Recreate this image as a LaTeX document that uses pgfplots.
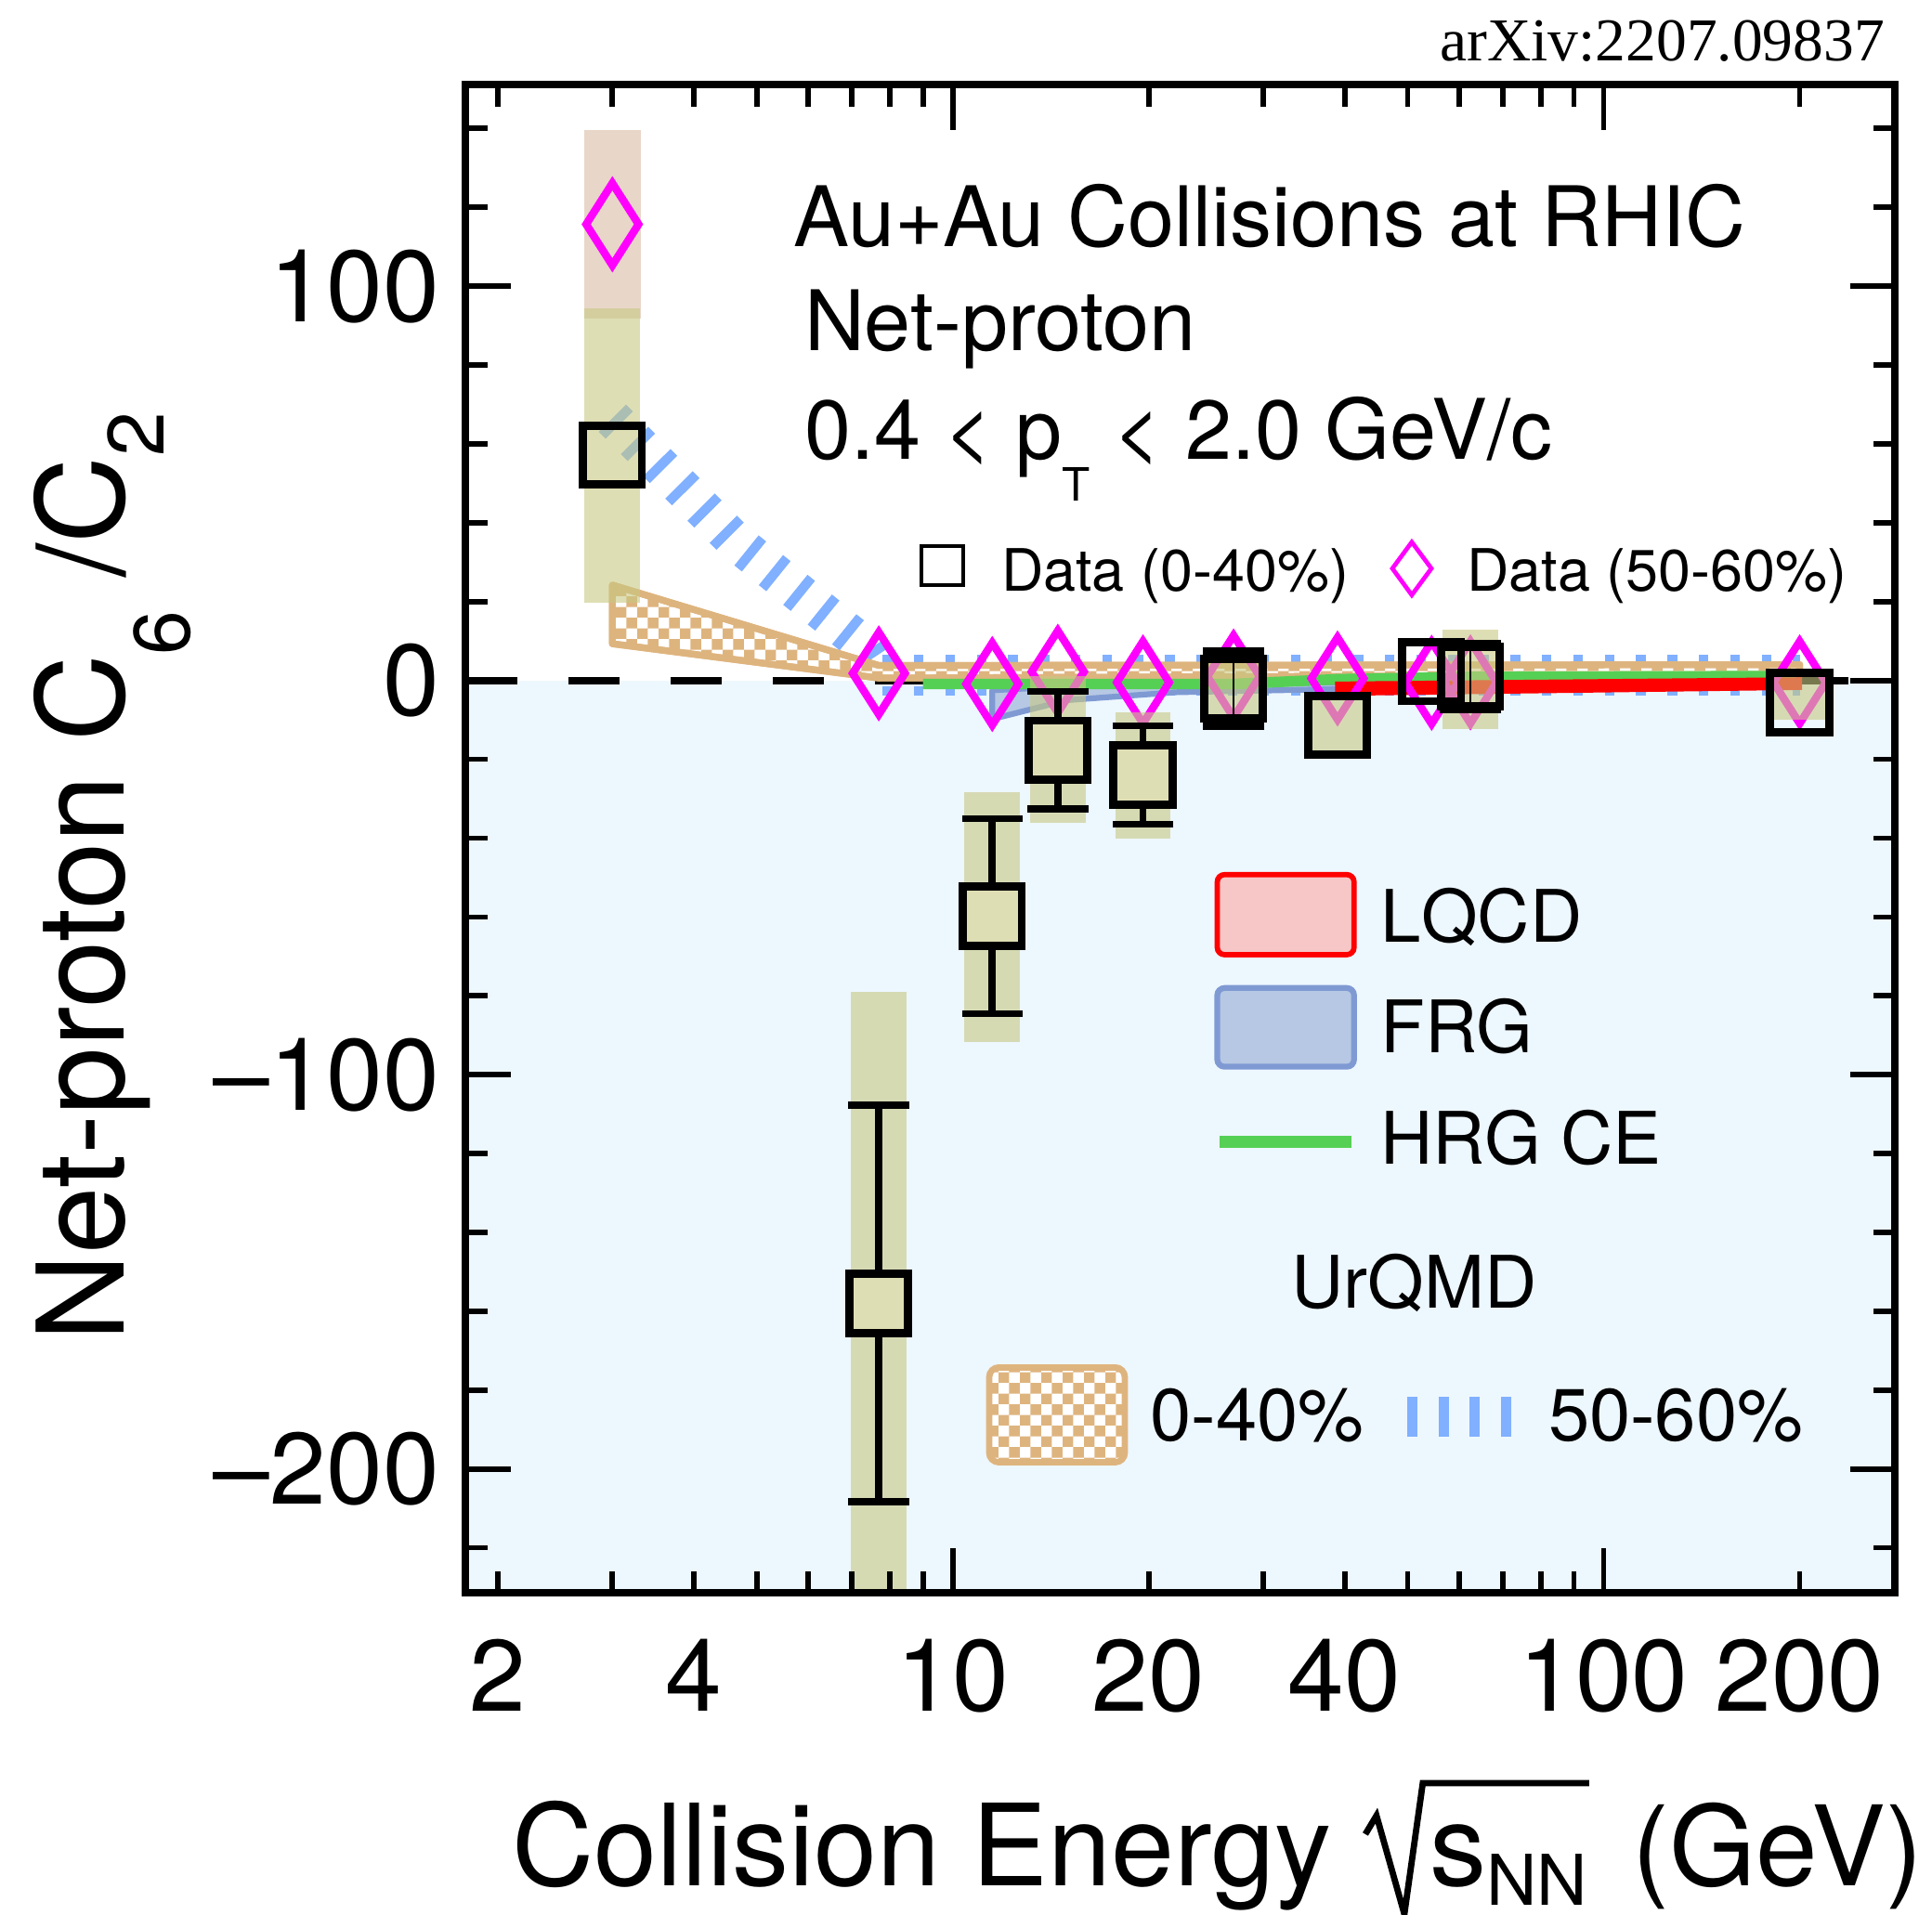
\documentclass[border=0pt]{standalone}
\usepackage{pgfplots}
\pgfplotsset{compat=1.18}
\usetikzlibrary{patterns}
\usepackage{fontspec}
\setmainfont{TeX Gyre Heros}
\newfontfamily\arxivfont{Liberation Serif}

\definecolor{bgblue}{RGB}{237,247,254}
\definecolor{olivebase}{RGB}{200,200,130}
\definecolor{olivefill}{RGB}{222,222,180}
\definecolor{pinkbase}{RGB}{217,187,163}
\definecolor{urqmdblue}{RGB}{128,176,255}
\definecolor{urqmdtan}{RGB}{222,180,126}
\definecolor{frgfill}{RGB}{183,200,228}
\definecolor{frgdraw}{RGB}{127,154,211}
\definecolor{lqcdfill}{RGB}{247,198,198}
\definecolor{hrggreen}{RGB}{85,208,85}
\definecolor{mag}{RGB}{255,0,255}

\pgfdeclarepatternformonly{smallchecker}{\pgfpointorigin}{\pgfqpoint{4.4pt}{4.4pt}}{\pgfqpoint{4.4pt}{4.4pt}}{%
  \pgfpathrectangle{\pgfpointorigin}{\pgfqpoint{2.2pt}{2.2pt}}%
  \pgfpathrectangle{\pgfqpoint{2.2pt}{2.2pt}}{\pgfqpoint{2.2pt}{2.2pt}}%
  \pgfusepath{fill}}

\begin{document}
\begin{tikzpicture}
\begin{axis}[
  scale only axis,
  width=295.88pt, height=312.26pt,
  xmode=log, log basis x=10,
  xmin=1.786, xmax=280,
  ymin=-231.4, ymax=151.1,
  clip mode=individual,
  axis on top,
  axis line style={line width=1.5pt, black},
  tick pos=both, tick align=inside,
  major tick length=9.3pt, minor tick length=4.5pt,
  tick style={black, line width=1.1pt},
  xtick={10,100}, xticklabels={10,100},
  extra x ticks={2,4,20,40,200},
  extra x tick labels={2,4,20,40,200},
  extra x tick style={major tick length=4.5pt},
  minor xtick={3,5,6,7,8,9,30,50,60,70,80,90},
  ytick={-200,-100,0,100}, yticklabels={--200,--100,0,100},
  minor ytick={-220,-180,-160,-140,-120,-80,-60,-40,-20,20,40,60,80,120,140},
  xticklabel style={font=\fontsize{21}{23}\selectfont, inner sep=0pt, anchor=north, yshift=-9.4pt},
  yticklabel style={font=\fontsize{21}{23}\selectfont, inner sep=0pt, anchor=east, xshift=-5.3pt},
]
% background below zero
\addplot [draw=none, fill=bgblue] coordinates {(1.786,0) (280,0) (280,-231.4) (1.786,-231.4)} -- cycle;
% zero line
\addplot [black, line width=1.5pt, dash pattern=on 10.6pt off 10.6pt] coordinates {(1.786,0) (280,0)};
% UrQMD 50-60% (sloped part and the two edges of the flat part)
\addplot [urqmdblue, line width=8pt, dash pattern=on 2pt off 4.5pt, line join=bevel] coordinates {(3,66.5) (4.64,35.2) (7.26,9.3) (7.8,1.5)};
\addplot [urqmdblue, line width=2pt, dash pattern=on 2pt off 4.5pt] coordinates {(7.8,5.2) (200,5.2)};
\addplot [urqmdblue, line width=2pt, dash pattern=on 2pt off 4.5pt] coordinates {(7.8,-2.7) (200,-2.7)};
% UrQMD 0-40%
\addplot [draw=urqmdtan, line width=1.4pt, line join=round, preaction={fill=white}, pattern=smallchecker, pattern color=urqmdtan] coordinates {(3,24.2) (7.7,3.8) (200,4) (200,1.5) (7.7,0.6) (3,9.3)} -- cycle;
% FRG
\addplot [draw=frgdraw, fill=frgfill, line width=1.2pt, line join=round] coordinates {(11.5,-2.5) (15,-1.5) (22,-1.3) (39,-0.5) (45,-0.3) (45,-2) (39,-2.2) (22,-3) (15,-5) (11.5,-9.8)} -- cycle;
% HRG CE
\addplot [hrggreen, line width=2.2pt] coordinates {(9,-0.9) (27,-0.9) (39,0.3) (62.4,0.9) (200,1.1)};
% LQCD
\addplot [draw=red, fill=red, line width=1pt] coordinates {(39,-0.9) (200,0.2) (200,-1.8) (39,-3.3)} -- cycle;
% sys band, 50-60% at 3 GeV
\addplot [draw=none, mark=none, error bars/.cd, y dir=both, y explicit, error mark=none,
  error bar style={draw=pinkbase, draw opacity=0.6, line width=11.8pt}]
  coordinates {(3,115.7) +- (0,23.8)};
% Data 50-60%
\addplot [only marks, mark=diamond, mark size=8.5pt, mark options={draw=mag, line width=1.6pt, xscale=0.85}]
  coordinates {(3,115.7) (7.7,1.8) (11.5,-0.9) (14.5,2.2) (19.6,-0.5) (27,1) (39,0.5) (54.4,-0.6) (62.4,-0.5) (200,-0.5)};
% sys bands, 0-40%
\addplot [draw=none, mark=none, error bars/.cd, y dir=both, y explicit, error mark=none,
  error bar style={draw=olivebase, draw opacity=0.6, line width=11.5pt}]
  coordinates {
  (3,57) +- (0,37.4)
  (7.7,-169.5) +- (0,90.4)
  (11.5,-60) +- (0,31.7)
  (14.5,-17.6) +- (0,18.6)
  (19.6,-24.1) +- (0,16)
  (27,-2.1) +- (0,6.7)
  (39,-11.4) +- (0,6.5)
  (62.4,0.25) +- (0,12.55)
  (200,-4.5) +- (0,5.5)
  };
% stat errors 0-40%
\addplot [draw=none, mark=none, error bars/.cd, y dir=both, y explicit,
  error bar style={draw=black, line width=1.5pt},
  error mark options={rotate=90, draw=black, line width=1.4pt, mark size=6.3pt}]
  coordinates {
  (7.7,-158) +- (0,50.3)
  (11.5,-59.8) +- (0,24.8)
  (14.5,-17.7) +- (0,14.9)
  (19.6,-24.0) +- (0,12.5)
  };
\addplot [draw=none, mark=none, error bars/.cd, y dir=both, y explicit,
  error bar style={draw=none},
  error mark options={rotate=90, draw=black, line width=1.6pt, mark size=6.4pt}]
  coordinates {(27,-2.1) +- (0,9.6) (62.4,1.0) +- (0,8.3)};
% Data 0-40%
\addplot [only marks, mark=square*, mark size=6.1pt, mark options={draw=black, fill=olivefill, line width=1.7pt}]
  coordinates {(7.7,-158) (11.5,-59.8) (14.5,-17.7) (19.6,-24.0)};
\addplot [only marks, mark=square, mark size=6.1pt, mark options={draw=black, line width=1.7pt}]
  coordinates {(3,57.2) (27,-2.1) (39,-11.4) (54.4,2.2) (62.4,1.0) (200,-5.6)};

% texts
\node[anchor=base west, inner sep=0pt, font=\fontsize{17.3}{20}\selectfont] at (rel axis cs:0.2285,0.8928) {Au+Au Collisions at RHIC};
\node[anchor=base west, inner sep=0pt, font=\fontsize{17.3}{20}\selectfont] at (rel axis cs:0.2363,0.8234) {Net-proton};
\node[anchor=base west, inner sep=0pt, font=\fontsize{17.3}{20}\selectfont] at (rel axis cs:0.2363,0.7515) {0.4 < p\raisebox{-8.7pt}{\fontsize{9.5}{10}\selectfont T} < 2.0 GeV/c};

\draw[black, line width=0.8pt] (rel axis cs:0.3189,0.6682) rectangle (rel axis cs:0.3481,0.6943);
\node[anchor=base west, inner sep=0pt, font=\fontsize{12.1}{14}\selectfont] at (rel axis cs:0.3741,0.6641) {Data (0-40\%)};
\draw[mag, line width=0.9pt] (rel axis cs:0.662,0.6616) -- (rel axis cs:0.6757,0.6792) -- (rel axis cs:0.662,0.6967) -- (rel axis cs:0.6484,0.6792) -- cycle;
\node[anchor=base west, inner sep=0pt, font=\fontsize{12.1}{14}\selectfont] at (rel axis cs:0.7000,0.6641) {Data (50-60\%)};

\draw[red, line width=1.1pt, fill=lqcdfill, rounded corners=1.5pt] (rel axis cs:0.5259,0.4231) rectangle (rel axis cs:0.6216,0.4762);
\node[anchor=base west, inner sep=0pt, font=\fontsize{15}{18}\selectfont] at (rel axis cs:0.6397,0.4312) {LQCD};
\draw[frgdraw, line width=1.2pt, fill=frgfill, rounded corners=1.5pt] (rel axis cs:0.5259,0.3488) rectangle (rel axis cs:0.6216,0.4010);
\node[anchor=base west, inner sep=0pt, font=\fontsize{15}{18}\selectfont] at (rel axis cs:0.6397,0.3578) {FRG};
\draw[hrggreen, line width=2.4pt] (rel axis cs:0.5275,0.2989) -- (rel axis cs:0.6198,0.2989);
\node[anchor=base west, inner sep=0pt, font=\fontsize{15}{18}\selectfont] at (rel axis cs:0.6397,0.2842) {HRG CE};
\node[anchor=base west, inner sep=0pt, font=\fontsize{15}{18}\selectfont] at (rel axis cs:0.5775,0.1886) {UrQMD};
\draw[urqmdtan, line width=1.3pt, rounded corners=2pt, preaction={fill=white}, pattern=smallchecker, pattern color=urqmdtan] (rel axis cs:0.3663,0.0865) rectangle (rel axis cs:0.4612,0.1494);
\node[anchor=base west, inner sep=0pt, font=\fontsize{15.3}{18}\selectfont] at (rel axis cs:0.4785,0.1004) {0-40\%};
\draw[urqmdblue, line width=8.4pt, dash pattern=on 2.1pt off 4.4pt] (rel axis cs:0.6587,0.1167) -- (rel axis cs:0.7329,0.1167);
\node[anchor=base west, inner sep=0pt, font=\fontsize{15.3}{18}\selectfont] at (rel axis cs:0.7569,0.1004) {50-60\%};

\node[anchor=base east, inner sep=0pt, font=\arxivfont\fontsize{12.6}{14}\selectfont] at (rel axis cs:0.9935,1.0156) {arXiv:2207.09837};

% y label
\node[rotate=90, anchor=base, inner sep=0pt, font=\fontsize{25}{30}\selectfont] at (rel axis cs:-0.2394,0.4748) {Net-proton C\raisebox{-13.7pt}{\fontsize{16.5}{18}\selectfont 6} /C\raisebox{-8.3pt}{\fontsize{16.5}{18}\selectfont 2}};
% x label
\node[anchor=base west, inner sep=0pt, font=\fontsize{23.5}{28}\selectfont] at (rel axis cs:0.0316,-0.1940) {Collision Energy};
\node[anchor=base west, inner sep=0pt, font=\fontsize{23.5}{28}\selectfont] at (rel axis cs:0.6737,-0.1940) {s\raisebox{-4.2pt}{\fontsize{14.5}{16}\selectfont NN}};
\draw[black, line width=1.3pt, line join=miter, line cap=butt] (rel axis cs:0.6295,-0.1601) -- (rel axis cs:0.6373,-0.1478) -- (rel axis cs:0.6568,-0.2131) -- (rel axis cs:0.6697,-0.1262) -- (rel axis cs:0.7861,-0.1262);
\node[anchor=base west, inner sep=0pt, font=\fontsize{23}{28}\selectfont] at (rel axis cs:0.8159,-0.1940) {(GeV)};

\coordinate (bbsw) at (rel axis cs:-0.32588,-0.21309);
\coordinate (bbne) at (rel axis cs:1.02600,1.05620);
\end{axis}
\pgfresetboundingbox
\path (bbsw) rectangle (bbne);
\end{tikzpicture}
\end{document}
